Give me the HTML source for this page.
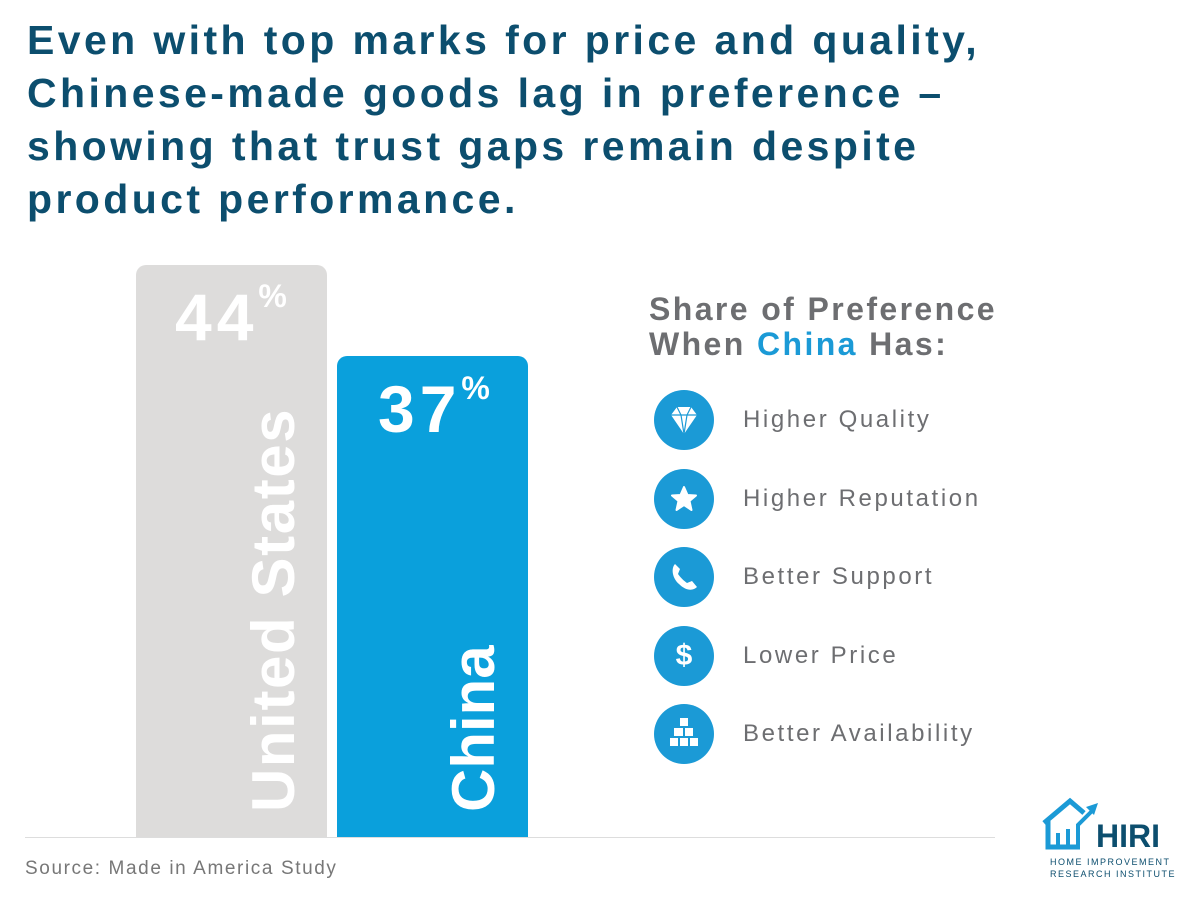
<!DOCTYPE html>
<html><head><meta charset="utf-8"><style>
body{margin:0;width:1200px;height:900px;background:#fff;position:relative;overflow:hidden;font-family:"Liberation Sans",sans-serif}
.t{position:absolute;left:27px;top:14px;color:#0c4e6e;font-weight:bold;font-size:41px;line-height:53px;letter-spacing:3.4px;white-space:nowrap}
.bar{position:absolute;border-radius:10px 10px 0 0}
.pct{position:absolute;color:#fff;font-weight:bold;font-size:66px;line-height:1;letter-spacing:5px}
.pct sup{font-size:32px;vertical-align:top;position:relative;top:-4px;letter-spacing:0}
.rot{position:absolute;color:#fff;font-weight:bold;font-size:60px;transform-origin:0 0;transform:rotate(-90deg);white-space:nowrap;line-height:1}
.lt{position:absolute;left:649px;top:292px;color:#6d6e71;font-weight:bold;font-size:32px;line-height:35px;letter-spacing:2.4px;white-space:nowrap}
.it{position:absolute;left:743px;color:#6d6e71;font-size:24px;line-height:1;letter-spacing:2.6px;white-space:nowrap}
.ic{position:absolute;left:654px;width:60px;height:60px;border-radius:50%;background:#1b9ad6}
</style></head><body>
<div class="t">Even with top marks for price and quality,<br>Chinese-made goods lag in preference –<br>showing that trust gaps remain despite<br>product performance.</div>
<div class="bar" style="left:136px;top:265px;width:191px;height:572px;background:#dddcdb"></div>
<div class="bar" style="left:337px;top:356px;width:191px;height:481px;background:#0aa0dc"></div>
<div style="position:absolute;left:25px;top:837px;width:970px;height:1px;background:#ddd"></div>
<div class="pct" style="left:175px;top:284px">44<sup>%</sup></div>
<div class="pct" style="left:378px;top:376px">37<sup>%</sup></div>
<div class="rot" style="left:244px;top:812px;letter-spacing:1.6px">United States</div>
<div class="rot" style="left:444px;top:812px">China</div>
<div class="lt">Share of Preference<br>When <span style="color:#1b9ad6">China</span> Has:</div>
<div class="ic" style="top:390px"><svg width="60" height="60"><path d="M17 25 L23 17 H37 L43 25 L30 44 Z" fill="#fff"/><path d="M17 25 H43 M23 17 L27 25 L30 44 L33 25 L37 17" stroke="#1b9ad6" stroke-width="1.2" fill="none"/></svg></div>
<div class="ic" style="top:469px"><svg width="60" height="60"><path d="M30 18 L33.5 26 L42 26.5 L35.5 32 L37.5 41 L30 36 L22.5 41 L24.5 32 L18 26.5 L26.5 26 Z" fill="#fff" stroke="#fff" stroke-linejoin="round" stroke-width="2"/></svg></div>
<div class="ic" style="top:547px"><svg width="60" height="60"><path d="M21 17 C17 21 18 31 25 37 C32 44 39 44 43 40 L38 34 L33 36 C30 34 26 30 24 27 L26 22 Z" fill="#fff"/></svg></div>
<div class="ic" style="top:626px"><div style="color:#fff;font-weight:bold;font-size:30px;text-align:center;line-height:60px">$</div></div>
<div class="ic" style="top:704px"><svg width="60" height="60" fill="#fff"><rect x="26" y="14" width="8" height="8"/><rect x="20" y="24" width="9" height="8"/><rect x="31" y="24" width="8" height="8"/><rect x="16" y="34" width="8" height="8"/><rect x="26" y="34" width="8" height="8"/><rect x="36" y="34" width="8" height="8"/></svg></div>
<div class="it" style="top:408px">Higher Quality</div>
<div class="it" style="top:487px">Higher Reputation</div>
<div class="it" style="top:565px">Better Support</div>
<div class="it" style="top:644px">Lower Price</div>
<div class="it" style="top:722px">Better Availability</div>
<div style="position:absolute;left:25px;top:858px;color:#777;font-size:19px;letter-spacing:1.6px">Source: Made in America Study</div>
<svg style="position:absolute;left:1040px;top:795px" width="150" height="90">
<path d="M4 28 L30 6 L44 18 M8 26 V52 H40" fill="none" stroke="#1b9ad6" stroke-width="5"/>
<path d="M18 52 V38 M28 52 V34 M38 52 V30 L52 16" fill="none" stroke="#1b9ad6" stroke-width="4"/>
<path d="M46 12 L58 8 L54 20 Z" fill="#1b9ad6"/>
<text x="56" y="52" font-family="Liberation Sans" font-weight="bold" font-size="32" fill="#0c4e6e">HIRI</text>
<text x="10" y="70" font-family="Liberation Sans" font-size="9" fill="#0c4e6e" letter-spacing="1.5">HOME IMPROVEMENT</text>
<text x="10" y="82" font-family="Liberation Sans" font-size="9" fill="#0c4e6e" letter-spacing="1.5">RESEARCH INSTITUTE</text>
</svg>
</body></html>
